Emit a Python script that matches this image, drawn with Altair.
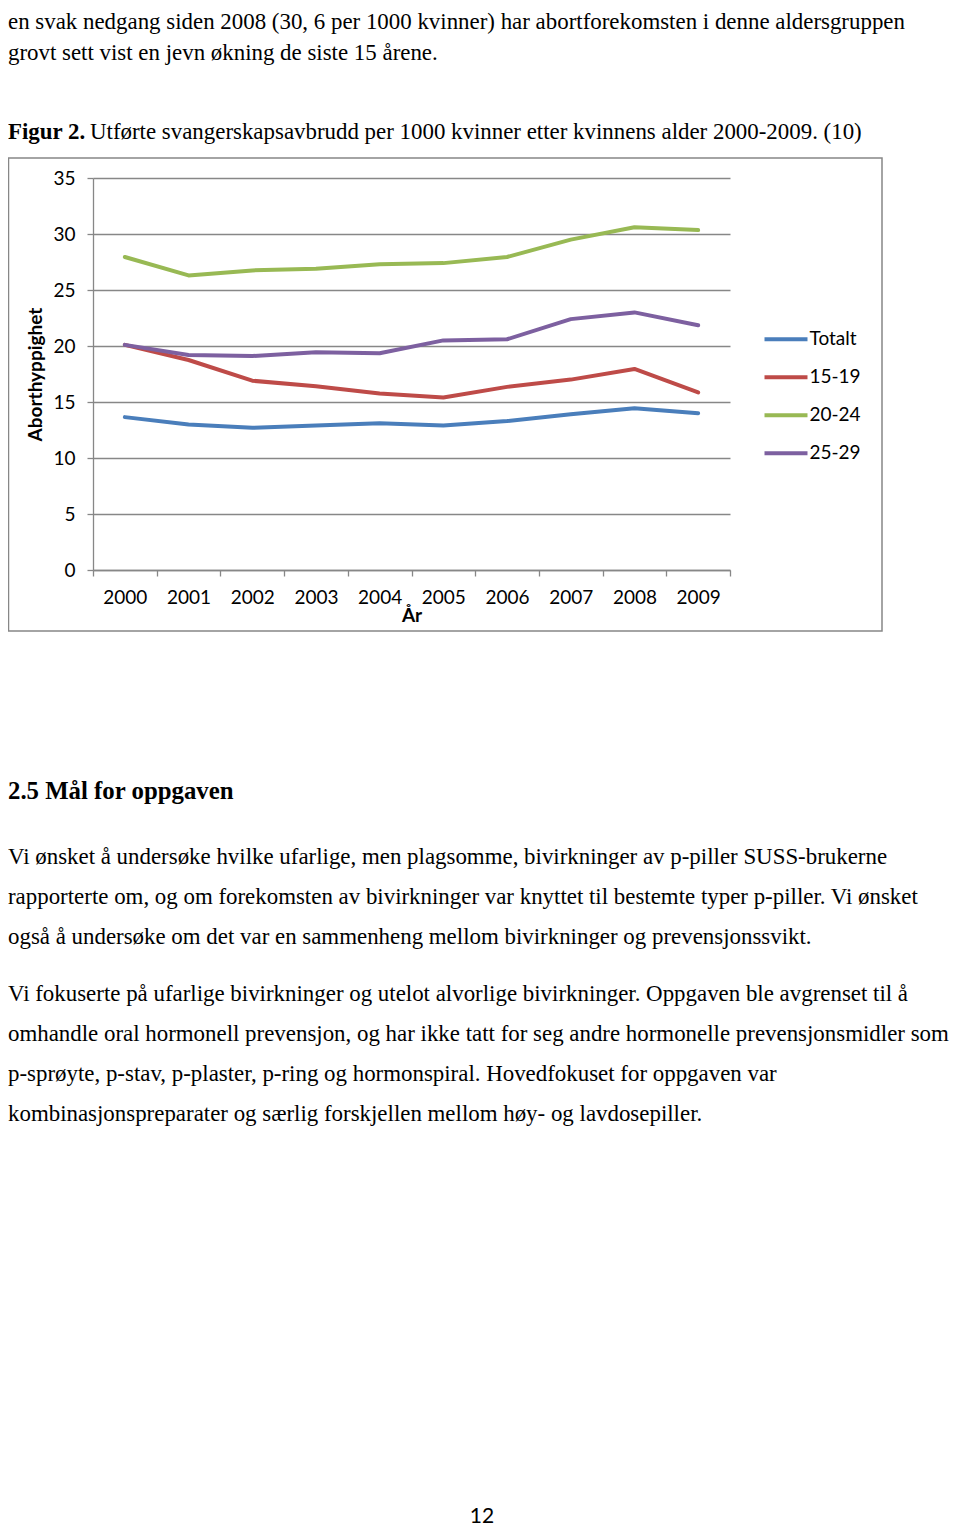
import altair as alt
import pandas as pd

# ---------------- data ----------------
years = ["2000", "2001", "2002", "2003", "2004", "2005", "2006", "2007", "2008", "2009"]
series_names = ["Totalt", "15-19", "20-24", "25-29"]
totalt = [13.65, 13.0, 12.7, 12.9, 13.1, 12.9, 13.3, 13.9, 14.45, 14.0]
age_15_19 = [20.1, 18.75, 16.9, 16.4, 15.75, 15.4, 16.35, 17.0, 17.95, 15.85]
age_20_24 = [27.95, 26.3, 26.75, 26.9, 27.3, 27.4, 27.95, 29.5, 30.6, 30.35]
age_25_29 = [20.1, 19.2, 19.1, 19.45, 19.35, 20.5, 20.6, 22.4, 23.0, 21.85]
y_ticks = [0, 5, 10, 15, 20, 25, 30, 35]

intro_lines = [
    "en svak nedgang siden 2008 (30, 6 per 1000 kvinner) har abortforekomsten i denne aldersgruppen",
    "grovt sett vist en jevn økning de siste 15 årene.",
]
caption_bold = "Figur 2."
caption_rest = "Utførte svangerskapsavbrudd per 1000 kvinner etter kvinnens alder 2000-2009. (10)"
heading = "2.5 Mål for oppgaven"
paragraph1 = [
    "Vi ønsket å undersøke hvilke ufarlige, men plagsomme, bivirkninger av p-piller SUSS-brukerne",
    "rapporterte om, og om forekomsten av bivirkninger var knyttet til bestemte typer p-piller. Vi ønsket",
    "også å undersøke om det var en sammenheng mellom bivirkninger og prevensjonssvikt.",
]
paragraph2 = [
    "Vi fokuserte på ufarlige bivirkninger og utelot alvorlige bivirkninger. Oppgaven ble avgrenset til å",
    "omhandle oral hormonell prevensjon, og har ikke tatt for seg andre hormonelle prevensjonsmidler som",
    "p-sprøyte, p-stav, p-plaster, p-ring og hormonspiral. Hovedfokuset for oppgaven var",
    "kombinasjonspreparater og særlig forskjellen mellom høy- og lavdosepiller.",
]
page_number = "12"

# ---------------- table ----------------
rows = []
for name, vals in zip(series_names, [totalt, age_15_19, age_20_24, age_25_29]):
    for yr, v in zip(years, vals):
        rows.append({"År": yr, "Serie": name, "Verdi": v})
df = pd.DataFrame(rows)

# ---------------- styles / layout ----------------
SERIF = "Liberation Serif"
SANS = "Lato"
BODY_SIZE = 22.9
GRID = "#878787"
colors = ["#4A7EBB", "#BE4B48", "#98B954", "#7D60A0"]
LEFT = -85  # left text edge in plot coordinates

lines = alt.Chart(df).mark_line(strokeWidth=4, strokeJoin="round", strokeCap="round").encode(
    x=alt.X(
        "År:O",
        bandPosition=0.5,
        scale=alt.Scale(type="band", paddingInner=0, paddingOuter=0),
        axis=alt.Axis(
            tickBand="extent", labelAngle=0, grid=False,
            domainColor=GRID, tickColor=GRID, tickSize=6, domainWidth=1.3, tickWidth=1.3,
            labelFont=SANS, labelFontSize=19, labelColor="black", labelPadding=12,
            title="År", titleFont=SANS, titleFontSize=19, titleFontWeight="bold",
            titleColor="black", titleY=45, titleBaseline="middle",
        ),
    ),
    y=alt.Y(
        "Verdi:Q",
        scale=alt.Scale(domain=[0, 35], nice=False, zero=True),
        axis=alt.Axis(
            values=y_ticks, grid=True, gridColor=GRID, gridWidth=1.3,
            domainColor=GRID, tickColor=GRID, tickSize=6, domainWidth=1.3, tickWidth=1.3,
            labelFont=SANS, labelFontSize=19, labelColor="black", labelPadding=12,
            title="Aborthyppighet", titleFont=SANS, titleFontSize=19, titleFontWeight="bold",
            titleColor="black", titleX=-58, titleY=196, titleAngle=270,
            titleBaseline="middle", titleAlign="center",
        ),
    ),
    color=alt.Color(
        "Serie:N",
        sort=series_names,
        scale=alt.Scale(domain=series_names, range=colors),
        legend=alt.Legend(
            orient="none", legendX=680, legendY=148.25, title=None, padding=0,
            symbolType="M-2,0H2", symbolSize=462, symbolStrokeWidth=4,
            labelFont=SANS, labelFontSize=19, labelColor="black", labelOffset=10.5,
            rowPadding=15,
        ),
    ),
    order=alt.Order("Serie:N"),
)

frame = alt.Chart(alt.Data(values=[{"k": 1}])).mark_rect(
    filled=False, stroke=GRID, strokeWidth=1.5
).encode(
    x=alt.value(-84.5), x2=alt.value(789), y=alt.value(-20), y2=alt.value(453)
)


def text_layer(t, x, y, size=BODY_SIZE, font=SERIF, weight="normal", align="left"):
    return alt.Chart(alt.Data(values=[{"t": t}])).mark_text(
        font=font, fontSize=size, fontWeight=weight, align=align,
        baseline="alphabetic", color="black",
    ).encode(x=alt.value(x), y=alt.value(y), text="t:N")


texts = []
texts.append(text_layer(intro_lines[0], LEFT, -149))
texts.append(text_layer(intro_lines[1], LEFT, -118))
texts.append(text_layer(caption_bold, LEFT, -39, weight="bold"))
texts.append(text_layer(caption_rest, -3, -39))
texts.append(text_layer(heading, LEFT, 621, size=24.8, weight="bold"))
for i, t in enumerate(paragraph1):
    texts.append(text_layer(t, LEFT, 686 + 40 * i))
for i, t in enumerate(paragraph2):
    texts.append(text_layer(t, LEFT, 823 + 40 * i))
texts.append(text_layer(page_number, 389, 1345, size=21, font=SANS, align="center"))

chart = alt.layer(frame, lines, *texts).properties(
    width=637,
    height=392,
    autosize=alt.AutoSizeParams(type="none"),
    padding={"left": 85, "top": 170, "right": 222, "bottom": 961},
    background="white",
).configure_view(strokeWidth=0)

chart.save("out.html", embed_options={"renderer": "svg", "actions": False})
